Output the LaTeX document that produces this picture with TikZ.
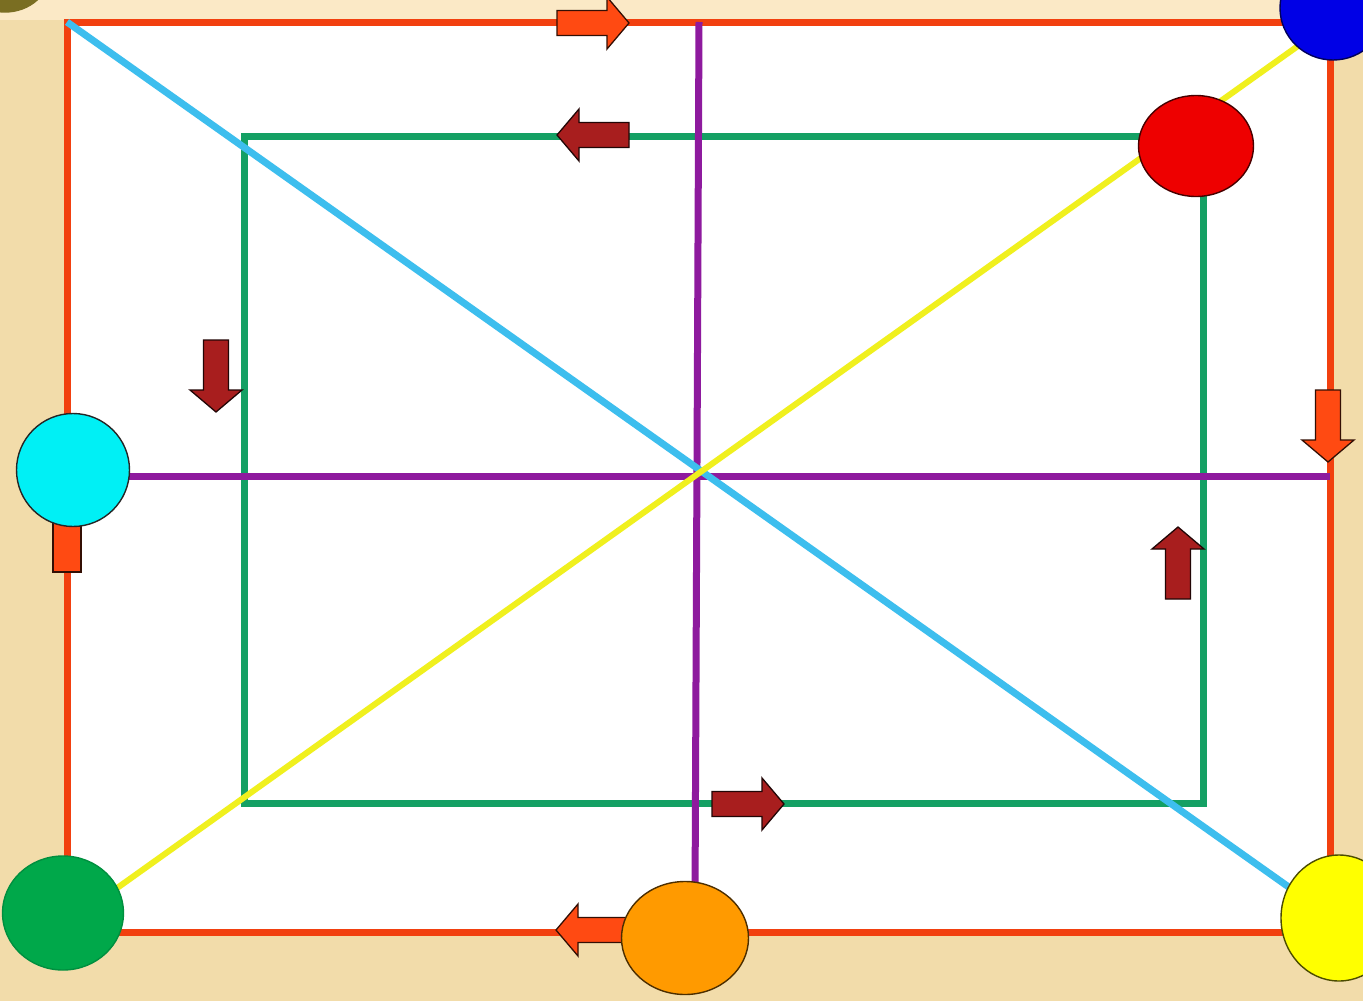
\documentclass[tikz,border=0pt]{standalone}
\usetikzlibrary{shapes.geometric}
\definecolor{bgbeige}{HTML}{F2DCAA}
\definecolor{bgtop}{HTML}{FBE9C6}
\definecolor{redline}{HTML}{F2400F}
\definecolor{greenline}{HTML}{14A064}
\definecolor{purpleline}{HTML}{8E1A9E}
\definecolor{cyanline}{HTML}{3DBEEE}
\definecolor{yellowline}{HTML}{F0F01E}
\definecolor{darkarrow}{HTML}{A81E1E}
\definecolor{orangearrow}{HTML}{FF4A12}
\definecolor{cblue}{HTML}{0000E6}
\definecolor{cred}{HTML}{EE0000}
\definecolor{ccyan}{HTML}{00F0F5}
\definecolor{cgreen}{HTML}{00A84A}
\definecolor{corange}{HTML}{FF9A00}
\definecolor{cyellow}{HTML}{FFFF00}
\definecolor{colive}{HTML}{7A6E22}
\tikzset{
  blockarrow/.pic={\filldraw[pic actions] (-36,-12.5) -- (14,-12.5) -- (14,-26) -- (36,0) -- (14,26) -- (14,12.5) -- (-36,12.5) -- cycle;},
  darkarr/.style={fill=darkarrow, draw=black!80!darkarrow, line width=1.3pt},
  orarr/.style={fill=orangearrow, draw=black!80!orangearrow, line width=1.3pt},
  disc/.style={ellipse, draw=black!85, line width=1.4pt, inner sep=0pt},
  thick line/.style={line width=7pt},
}
\begin{document}
\begin{tikzpicture}[x=1pt,y=-1pt]
\useasboundingbox (0,0) rectangle (1363,1001);
% background
\fill[bgbeige] (0,0) rectangle (1363,1001);
\fill[bgtop] (0,0) rectangle (1363,20);
\fill[white] (67,22) rectangle (1330,932);
% corner coordinates
\coordinate (TL) at (67,22);
\coordinate (TR) at (1330,22);
\coordinate (BR) at (1330,932);
\coordinate (BL) at (67,932);
\coordinate (gTL) at (244,136);
\coordinate (gTR) at (1203,136);
\coordinate (gBR) at (1203,803);
\coordinate (gBL) at (244,803);
\coordinate (PT) at (699,22);
\coordinate (PB) at (695,900);
\coordinate (PL) at (120,476);
\coordinate (PR) at (1330,476);
\coordinate (YA) at (40,943);
\coordinate (YB) at (1333,21);
\coordinate (CB) at (1300,895);
% lines
\draw[thick line, greenline] (gTL) -- (gTR) -- (gBR) -- (gBL) -- cycle;
\draw[thick line, redline] (TL) -- (TR) -- (BR) -- (BL) -- cycle;
\draw[thick line, purpleline] (PT) -- (PB);
\draw[thick line, purpleline] (PL) -- (PR);
\draw[thick line, cyanline] (TL) -- (CB);
\draw[line width=6pt, yellowline] (YA) -- (YB);
% arrows
\pic[orarr] at (593,23) {blockarrow};
\pic[darkarr, rotate=180] at (593,135) {blockarrow};
\pic[darkarr, rotate=-90] at (216,376) {blockarrow};
\filldraw[orarr] (53,515) rectangle (81,572);
\pic[orarr, rotate=-90] at (1328,426) {blockarrow};
\pic[darkarr, rotate=90] at (1178,563) {blockarrow};
\pic[darkarr] at (748,804) {blockarrow};
\pic[orarr, rotate=180] at (592,930) {blockarrow};
% circles
\node[disc, fill=colive, draw=colive, minimum width=90pt, minimum height=80pt] (olive) at (5,-28) {};
\node[disc, fill=cblue, draw=black!60!cblue, minimum width=106pt, minimum height=104pt] (blue) at (1333,8) {};
\node[disc, fill=cred, draw=black!70!cred, minimum width=115pt, minimum height=101pt] (red) at (1196,146) {};
\node[disc, fill=ccyan, minimum width=113pt, minimum height=113pt] (cyan) at (73,470) {};
\node[disc, fill=cgreen, draw=cgreen!85!black, minimum width=121pt, minimum height=114pt] (green) at (63,913) {};
\node[disc, fill=corange, draw=black!70!corange, minimum width=127pt, minimum height=113pt] (orange) at (685,938) {};
\node[disc, fill=cyellow, draw=black!70!cyellow, minimum width=116pt, minimum height=126pt] (yellow) at (1339,918) {};
\end{tikzpicture}
\end{document}
